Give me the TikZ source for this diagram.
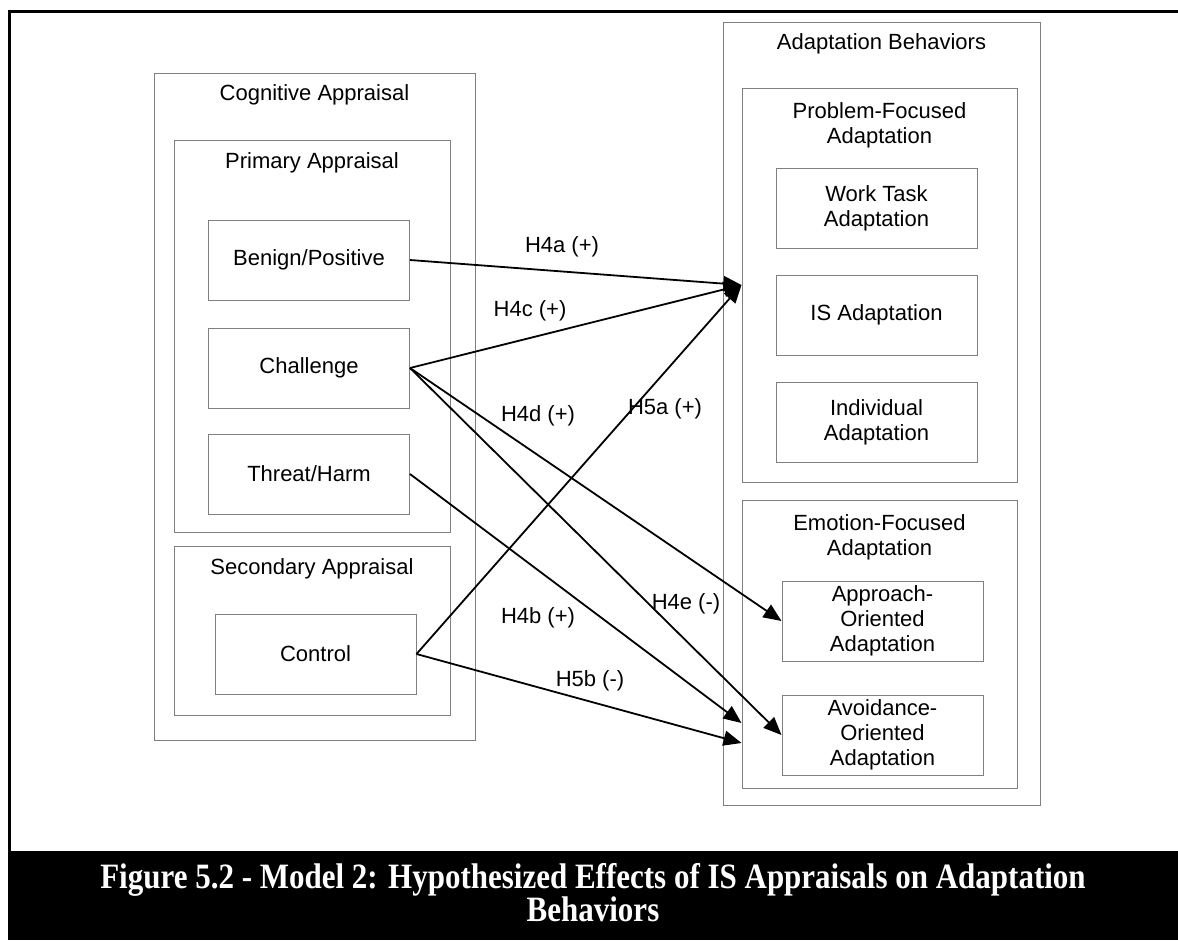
\documentclass[tikz,border=0pt]{standalone}
\usepackage{fontspec}
\setmainfont{Liberation Sans}
\newfontfamily\capfont{Liberation Serif}
\usetikzlibrary{arrows.meta,positioning}

\begin{document}
\begin{tikzpicture}
        [
            x = 1pt, y = -1pt,
            every node/.style = {font=\fontsize{22}{25}\selectfont, inner sep=0pt},
            frame/.style      = {draw=black!50, line width=1pt},
            boxed/.style      = {frame, minimum width=201pt, minimum height=80pt, align=center},
            title/.style      = {align=center},
            link/.style       = {draw, line width=1.8pt, -{Triangle[length=18pt, width=15pt]}},
        ]
        \useasboundingbox (0,0) rectangle (1178,940);
        % page frame and caption band
        \draw [line width=3pt] (9,940) -- (9,11) -- (1178,11);
        \fill (8,851) rectangle (1178,940);
        \node [text=white, align=center, font=\capfont\bfseries\fontsize{31}{33}\selectfont] (caption) at (593,893)
            {\scalebox{1}[1.15]{Figure 5.2 - Model 2: Hypothesized Effects of IS Appraisals on Adaptation}\\\scalebox{1}[1.15]{Behaviors}};

        % left: appraisals
        \node [frame, minimum width=321pt, minimum height=667pt] (cog) at (314.5,406.5) {};
        \node [title, below=12pt of cog.north] {Cognitive Appraisal};
        \node [frame, minimum width=276pt, minimum height=392pt] (prim) at (312,336) {};
        \node [title, below=13pt of prim.north] {Primary Appraisal};
        \node [boxed] (benign) at (309,260) {Benign/Positive};
        \node [boxed] (chal)   at (309,368) {Challenge};
        \node [boxed] (threat) at (309,474) {Threat/Harm};
        \node [frame, minimum width=276pt, minimum height=169pt] (sec) at (312,630.5) {};
        \node [title, below=13pt of sec.north] {Secondary Appraisal};
        \node [boxed] (ctrl) at (315.5,654) {Control};

        % right: adaptation behaviors
        \node [frame, minimum width=317pt, minimum height=783pt] (adapt) at (881.5,413.5) {};
        \node [title, below=12pt of adapt.north] {Adaptation Behaviors};
        \node [frame, minimum width=275pt, minimum height=394pt] (prob) at (879.5,285) {};
        \node [title, below=15pt of prob.north] {Problem-Focused\\Adaptation};
        \node [boxed] (work)  at (876.5,208.5) {Work Task\\Adaptation};
        \node [boxed] (isad)  at (876.5,315)   {IS Adaptation};
        \node [boxed] (indiv) at (876.5,422)   {Individual\\Adaptation};
        \node [frame, minimum width=275pt, minimum height=288pt] (emo) at (879.5,644) {};
        \node [title, below=15pt of emo.north] {Emotion-Focused\\Adaptation};
        \node [boxed] (appr)  at (882.5,621) {Approach-\\Oriented\\Adaptation};
        \node [boxed] (avoid) at (882.5,735) {Avoidance-\\Oriented\\Adaptation};
        \coordinate (threatin) at (emo.west |- 0,723);
        \coordinate (ctrlin)   at (emo.west |- 0,743);

        % hypotheses
        \draw [link] (benign.east) -- (prob.west);
        \draw [link] (chal.east)   -- (prob.west);
        \draw [link] (ctrl.east)   -- (prob.west);
        \draw [link] (chal.east)   -- (appr.west);
        \draw [link] (chal.east)   -- (avoid.west);
        \draw [link] (threat.east) -- (threatin);
        \draw [link] (ctrl.east)   -- (ctrlin);
        \node (h4a) at (562,247) {H4a (+)};
        \node (h4c) at (530,311) {H4c (+)};
        \node (h4d) at (538,416) {H4d (+)};
        \node (h5a) at (665,409) {H5a (+)};
        \node (h4b) at (538,618) {H4b (+)};
        \node (h4e) at (686,604) {H4e (-)};
        \node (h5b) at (590,681) {H5b (-)};
    \end{tikzpicture}
\end{document}
